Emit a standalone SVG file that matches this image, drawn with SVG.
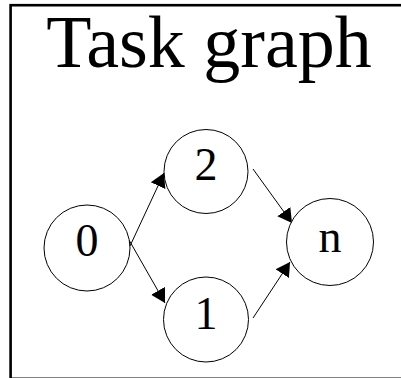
<svg xmlns="http://www.w3.org/2000/svg" width="401" height="378" viewBox="0 0 401 378">
  <style>
    .node circle { fill: #ffffff; stroke: #000000; stroke-width: 1; }
    .node text { font-family: "Liberation Serif", "Times New Roman", serif; font-size: 46px; fill: #000000; text-anchor: middle; }
    .edge { stroke: #000000; stroke-width: 1; fill: none; marker-end: url(#arrow); }
    .title { font-family: "Liberation Serif", "Times New Roman", serif; font-size: 74px; fill: #000000; text-anchor: middle; }
  </style>
  <defs>
    <marker id="arrow" markerWidth="14" markerHeight="18" refX="14" refY="9" orient="auto" markerUnits="userSpaceOnUse">
      <path d="M0,1 L14,9 L0,17 Z" fill="#000000"/>
    </marker>
  </defs>
  <rect x="0" y="0" width="401" height="378" fill="#ffffff"/>
  <rect id="frame" x="10.6" y="5.2" width="400" height="373.6" fill="none" stroke="#000000" stroke-width="2.6"/>
  <text id="title" class="title" x="209" y="67">Task graph</text>
  <g id="connectors">
    <line class="edge" x1="130" y1="246" x2="164" y2="173"/>
    <line class="edge" x1="253" y1="169" x2="292" y2="223"/>
    <line class="edge" x1="129" y1="240" x2="165" y2="303"/>
    <line class="edge" x1="253" y1="318" x2="290" y2="262"/>
  </g>
  <g id="node-0" class="node">
    <circle cx="87" cy="248" r="43"/>
    <text x="87" y="256">0</text>
  </g>
  <g id="node-2" class="node">
    <circle cx="206" cy="171.5" r="42"/>
    <text x="206" y="179.5">2</text>
  </g>
  <g id="node-1" class="node">
    <circle cx="206" cy="319.5" r="42.5"/>
    <text x="206" y="328.5">1</text>
  </g>
  <g id="node-n" class="node">
    <circle cx="330" cy="242" r="43.5"/>
    <text x="330" y="252">n</text>
  </g>
</svg>
